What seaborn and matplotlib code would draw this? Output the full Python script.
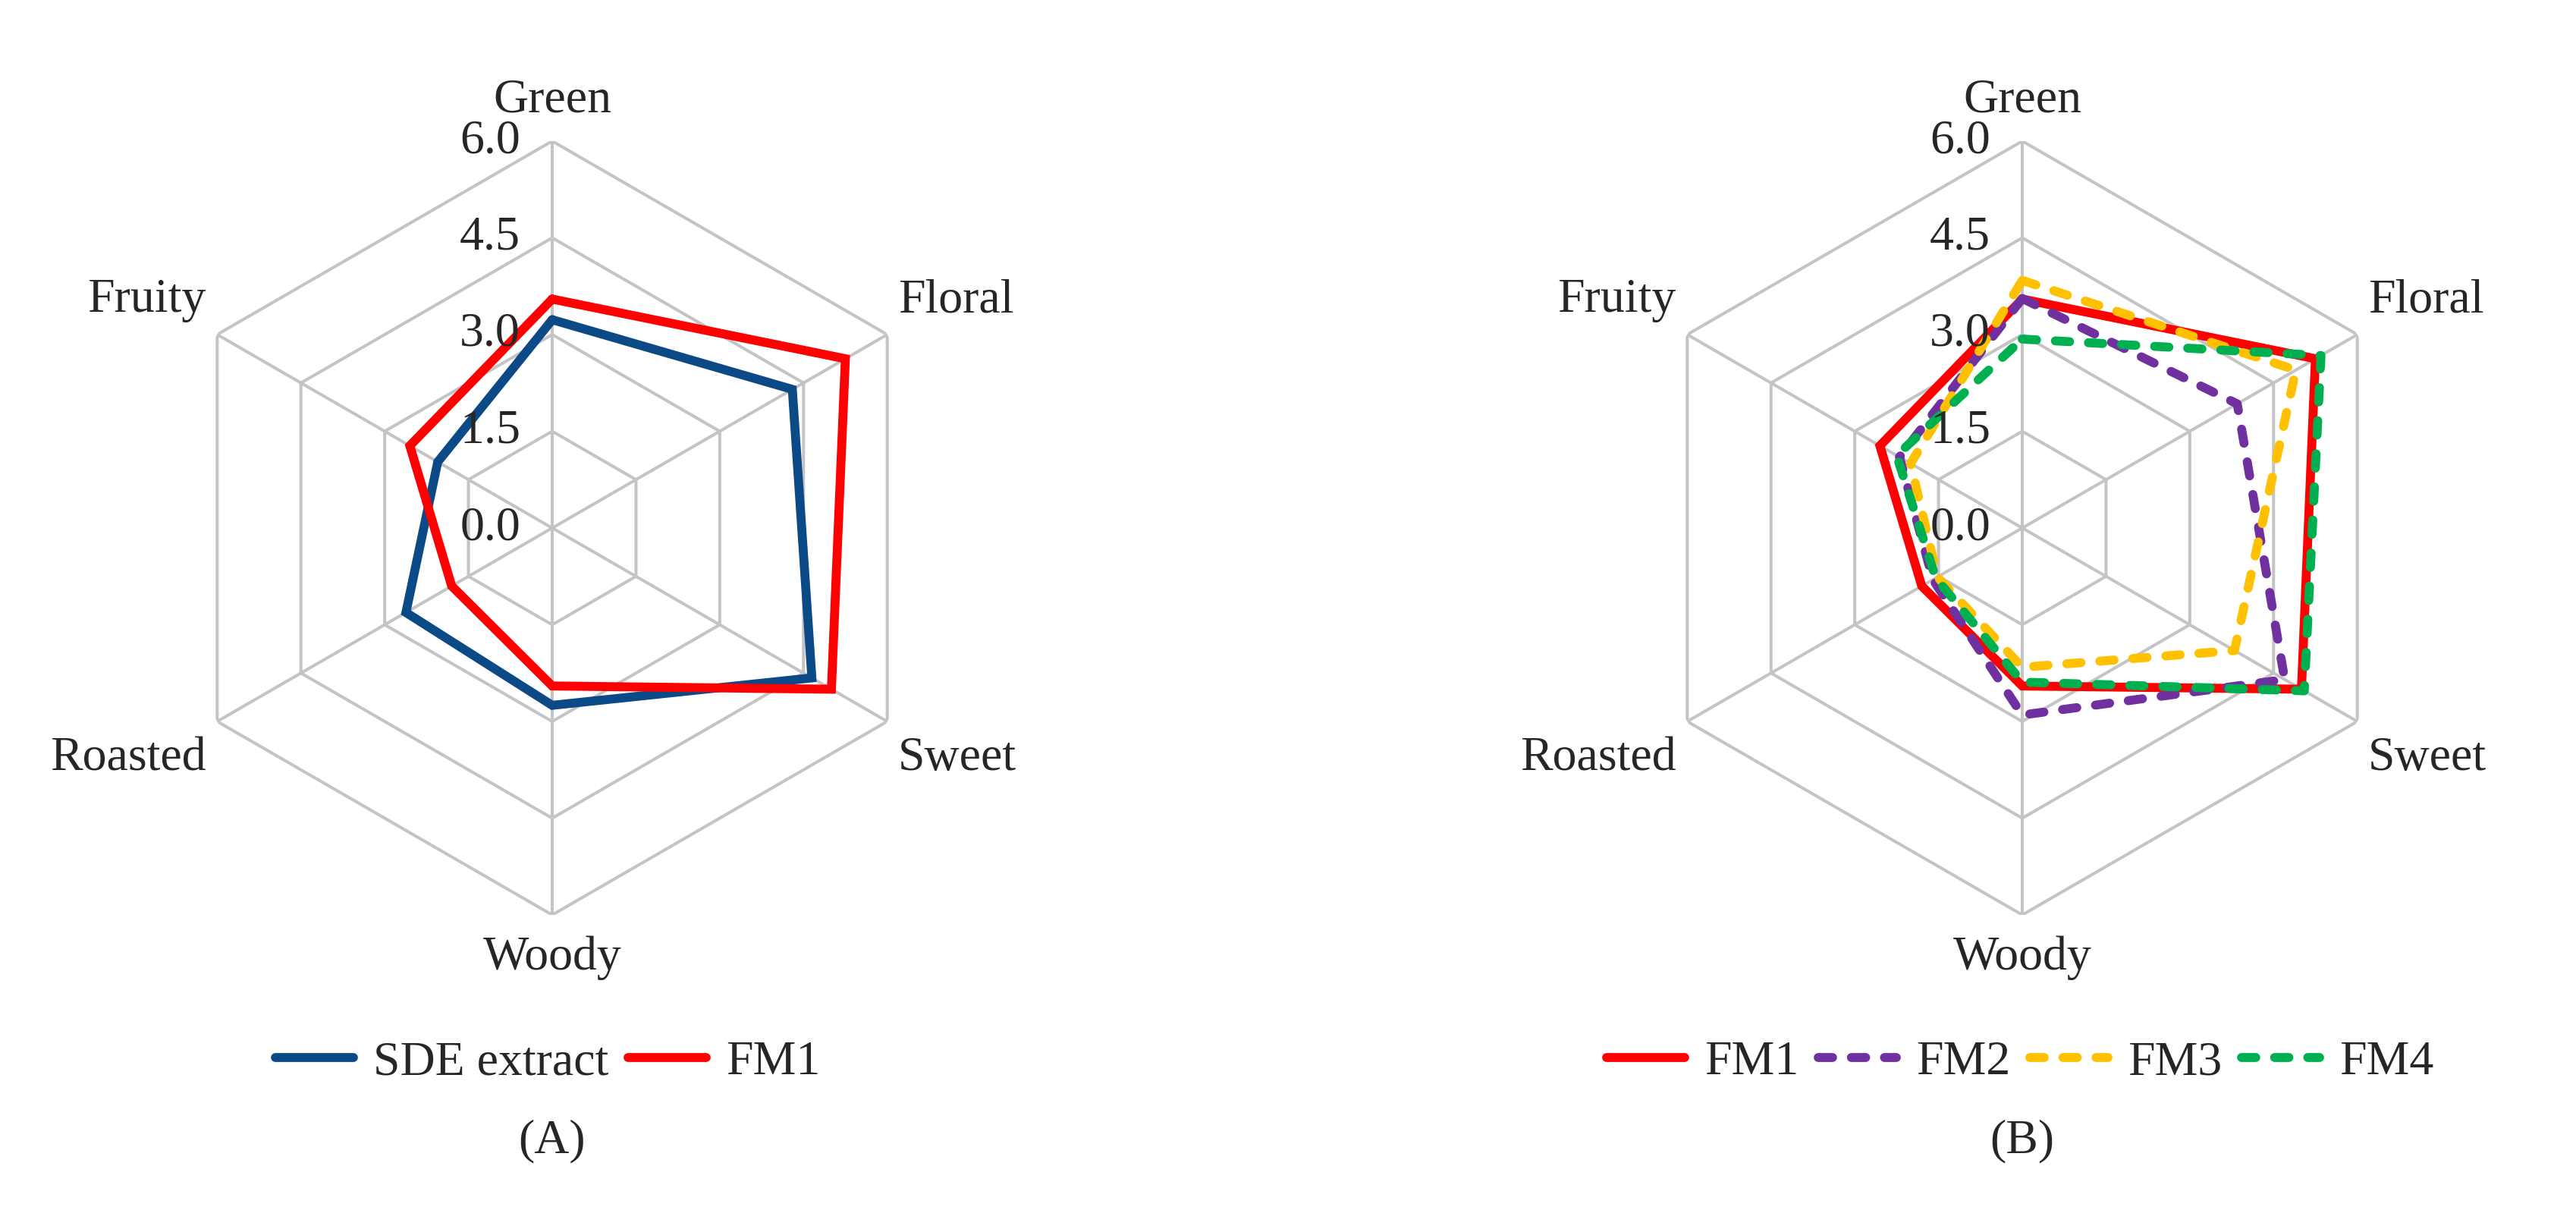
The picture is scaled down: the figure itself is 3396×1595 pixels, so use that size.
import numpy as np
import pandas as pd
import seaborn as sns
import matplotlib.pyplot as plt

# sensory attribute scores
attributes = ['Green', 'Floral', 'Sweet', 'Woody', 'Roasted', 'Fruity']
sde_extract = [3.23, 4.30, 4.65, 2.75, 2.62, 2.05]
fm1 = [3.55, 5.25, 5.00, 2.45, 1.80, 2.55]
fm2 = [3.56, 3.85, 4.70, 2.90, 1.60, 2.20]
fm3 = [3.84, 4.90, 3.80, 2.16, 1.52, 2.00]
fm4 = [2.93, 5.35, 5.05, 2.39, 1.55, 2.25]
ring_levels = [0.0, 1.5, 3.0, 4.5, 6.0]

colors = {'SDE extract': '#0B4A86', 'FM1': '#FF0000', 'FM2': '#7030A0',
          'FM3': '#FFC000', 'FM4': '#00B050'}
dash_map = {'SDE extract': '', 'FM1': '', 'FM2': (1.6, 2.1),
            'FM3': (1.6, 2.1), 'FM4': (1.6, 2.1)}

# label offsets (pixels) relative to the outer hexagon vertex
label_pos = {'Green': (0, 53, 'center'), 'Floral': (14, 45, 'left'),
             'Sweet': (14, -49, 'left'), 'Woody': (0, -57, 'center'),
             'Roasted': (-15, -49, 'right'), 'Fruity': (-15, 45, 'right')}

FS = 46
LW = 8.5
GRID = '#C4C4C4'

sns.set_theme(style='white')
plt.rcParams['font.family'] = ['Liberation Serif', 'DejaVu Serif']

angles = np.linspace(0, 2 * np.pi, len(attributes) + 1)


def to_long(series):
    rows = []
    for name, vals in series.items():
        closed = list(vals) + [vals[0]]
        for th, v in zip(angles, closed):
            rows.append({'theta': th, 'score': v, 'sample': name})
    return pd.DataFrame(rows)


def radar(ax, series):
    ax.set_theta_zero_location('N')
    ax.set_theta_direction(-1)
    ax.grid(False)
    ax.spines['polar'].set_visible(False)
    ax.set_facecolor('none')

    # hexagonal grid
    for lv in ring_levels[1:]:
        ax.plot(angles, [lv] * len(angles), color=GRID, lw=2.9, zorder=0)
    for th in angles[:-1]:
        ax.plot([th, th], [0, ring_levels[-1]], color=GRID, lw=2.9, zorder=0)

    df = to_long(series)
    names = list(series.keys())
    sns.lineplot(data=df, x='theta', y='score', hue='sample', style='sample',
                 hue_order=names, style_order=names,
                 palette={n: colors[n] for n in names},
                 dashes={n: dash_map[n] for n in names},
                 sort=False, estimator=None, linewidth=LW, legend=False,
                 dash_capstyle='round', solid_capstyle='round',
                 solid_joinstyle='miter', ax=ax)

    ax.set_ylim(0, ring_levels[-1])
    ax.set_xticks([])
    ax.set_yticks([])
    ax.set_xlabel('')
    ax.set_ylabel('')

    for lv in ring_levels:
        ax.annotate(f'{lv:.1f}', xy=(0, lv), xytext=(-42, 0),
                    textcoords='offset pixels', ha='right', va='center',
                    fontsize=FS, annotation_clip=False)
    for th, name in zip(angles[:-1], attributes):
        dx, dy, ha = label_pos[name]
        ax.annotate(name, xy=(th, ring_levels[-1]), xytext=(dx, dy),
                    textcoords='offset pixels', ha=ha, va='center',
                    fontsize=FS, annotation_clip=False)
    return ax.get_lines()[-len(names):]


W, H = 3396, 1595
fig = plt.figure(figsize=(W / 100, H / 100), dpi=100)
R = 510
cy = 696
for cx, series, tag, leg_cx in [
        (728, {'SDE extract': sde_extract, 'FM1': fm1}, '(A)', 722),
        (2666, {'FM1': fm1, 'FM2': fm2, 'FM3': fm3, 'FM4': fm4}, '(B)', 2663)]:
    ax = fig.add_axes([(cx - R) / W, (H - cy - R) / H, 2 * R / W, 2 * R / H],
                      projection='polar')
    handles = radar(ax, series)
    names = list(series.keys())
    fig.legend(handles, names, loc='center',
               bbox_to_anchor=(leg_cx / W, 1 - 1401 / H), ncol=len(names),
               frameon=False, fontsize=FS, handlelength=1.62,
               handletextpad=0.4, columnspacing=0.4)
    fig.text(cx / W, 1 - 1504 / H, tag, ha='center', va='center', fontsize=FS)

fig.savefig('out.png', dpi=100, facecolor='white')
